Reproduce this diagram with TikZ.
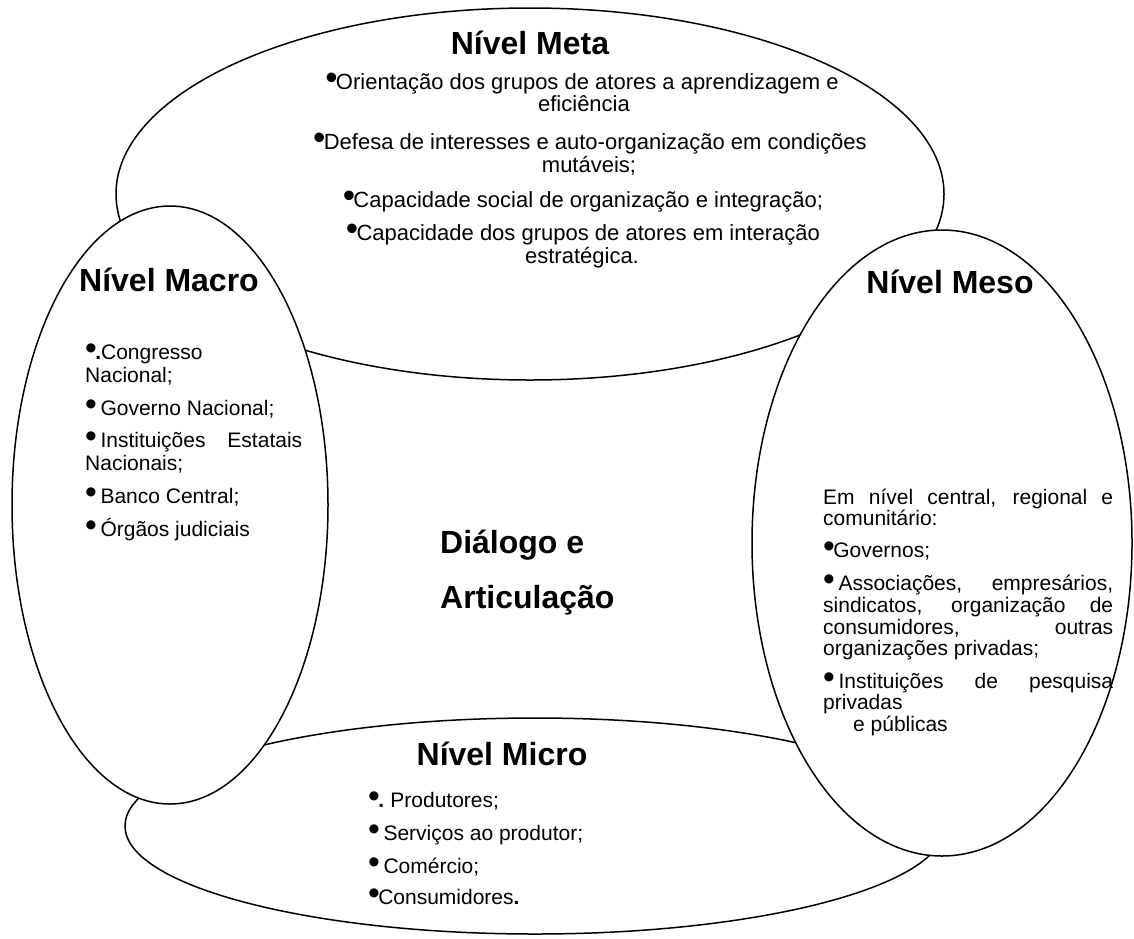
\documentclass[tikz,border=0pt]{standalone}
\usepackage{fontspec}
\setmainfont{Liberation Sans}
\usetikzlibrary{shapes.geometric}
\newcommand\mybul{\scalebox{1.6}{•}\kern-0.08em}
\newcommand\mybulsp{\mybul\kern0.25em}
\begin{document}
\begin{tikzpicture}[x=1pt,y=-1pt,
  ell/.style={ellipse,draw,fill=white,line width=1.5pt,inner sep=0pt},
  head/.style={font=\fontsize{32}{38}\selectfont\bfseries,inner sep=0pt},
  mid/.style={font=\fontsize{32}{36}\selectfont\bfseries,inner sep=0pt,anchor=mid west},
  body/.style={font=\fontsize{21}{23}\selectfont,inner sep=0pt},
  mbody/.style={font=\fontsize{22}{24}\selectfont,inner sep=0pt,anchor=mid},
  bl/.style={body,anchor=mid west}]
\useasboundingbox (0,0) rectangle (1134,938);
% ellipses
\node[ell,minimum width=828pt,minimum height=372pt] (meta) at (530,194) {};
\node[ell,minimum width=820pt,minimum height=216pt] (micro) at (535,826) {};
\node[ell,minimum width=316pt,minimum height=598pt] (macro) at (170,505) {};
\node[ell,minimum width=380pt,minimum height=626pt] (meso) at (942,543) {};
% meta
\node[head,anchor=mid] (tmeta) at (530,52) {Nível Meta};
\node[mbody] (m1) at (582,87) {\mybul Orientação dos grupos de atores a aprendizagem e};
\node[mbody] (m2) at (584,109) {eficiência};
\node[mbody] (m3) at (590,147) {\mybul Defesa de interesses e auto-organização em condições};
\node[mbody] (m4) at (589,170) {mutáveis;};
\node[mbody] (m5) at (583,205) {\mybul Capacidade social de organização e integração;};
\node[mbody] (m6) at (583,238) {\mybul Capacidade dos grupos de atores em interação};
\node[mbody] (m7) at (582,261) {estratégica.};
% macro
\node[head,anchor=mid] (tmacro) at (169,289) {Nível Macro};
\node[bl] (a1) at (85,357) {\mybul\textbf{.}Congresso};
\node[bl] (a2) at (85,380) {Nacional;};
\node[bl] (a3) at (85,413) {\mybulsp Governo Nacional;};
\node[bl] (a4) at (85,445) {\makebox[217pt][s]{\mybulsp Instituições Estatais}};
\node[bl] (a5) at (85,468) {Nacionais;};
\node[bl] (a6) at (85,501) {\mybulsp Banco Central;};
\node[bl] (a7) at (85,534) {\mybulsp Órgãos judiciais};
% meso
\node[head,anchor=mid] (tmeso) at (950,291) {Nível Meso};
\node[bl] (b1) at (823,502) {\makebox[290pt][s]{Em nível central, regional e}};
\node[bl] (b2) at (823,523) {comunitário:};
\node[bl] (b3) at (823,555) {\mybul Governos;};
\node[bl] (b4) at (823,588) {\makebox[290pt][s]{\mybulsp Associações, empresários,}};
\node[bl] (b5) at (823,610) {\makebox[290pt][s]{sindicatos, organização de}};
\node[bl] (b6) at (823,632) {\makebox[290pt][s]{consumidores, outras}};
\node[bl] (b7) at (823,653) {organizações privadas;};
\node[bl] (b8) at (823,686) {\makebox[290pt][s]{\mybulsp Instituições de pesquisa}};
\node[bl] (b9) at (823,707) {privadas};
\node[bl] (b10) at (853,729) {e públicas};
% micro
\node[head,anchor=mid] (tmicro) at (502,763) {Nível Micro};
\node[bl] (c1) at (368,805) {\mybul\textbf{.}\kern0.3em Produtores;};
\node[bl] (c2) at (368,838) {\mybulsp Serviços ao produtor;};
\node[bl] (c3) at (368,871) {\mybulsp Comércio;};
\node[bl] (c4) at (368,902) {\mybul Consumidores\textbf{.}};
% centre
\node[mid] (d1) at (440,551) {Diálogo e};
\node[mid] (d2) at (440,606) {Articulação};
\end{tikzpicture}
\end{document}
